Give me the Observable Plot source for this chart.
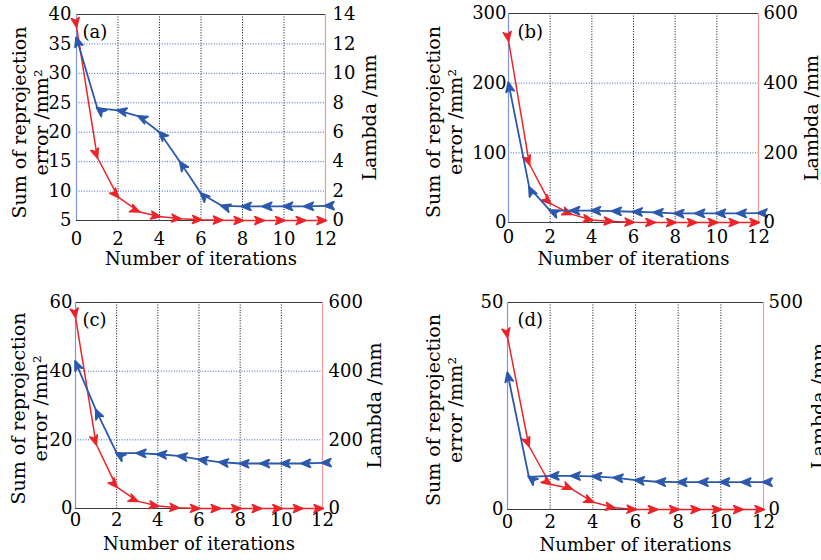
<!DOCTYPE html>
<html>
<head>
<meta charset="utf-8">
<script src="https://cdn.jsdelivr.net/npm/d3@7"></script>
<script src="https://cdn.jsdelivr.net/npm/@observablehq/plot@0.6"></script>
<style>
  html, body { margin: 0; padding: 0; background: white; }
  #root { position: relative; width: 821px; height: 560px; overflow: hidden; background: white; }
  #root > div { position: absolute; }
</style>
</head>
<body>
<div id="root"></div>
<script>
// ---- data ----
const iterations = [0, 1, 2, 3, 4, 5, 6, 7, 8, 9, 10, 11, 12];
const xTicks = [0, 2, 4, 6, 8, 10, 12];
const xGrid = [2, 4, 6, 8, 10];

const errorA  = [36, 24.1, 23.7, 22.7, 20.0, 14.9, 9.6, 7.5, 7.4, 7.4, 7.4, 7.4, 7.5];
const lambdaA = [13.2, 4.3, 1.6, 0.6, 0.27, 0.12, 0.05, 0.02, 0, 0, 0, 0, 0];
const errorB  = [200, 50, 17, 17, 17, 16.3, 15.4, 14.4, 13, 13, 13, 13, 13.4];
const lambdaB = [523, 168, 55, 24, 7, 3, 0.6, 0, 0, 0, 0, 0, 0];
const errorC  = [42.7, 28.6, 16.1, 16.1, 15.8, 15.3, 14.3, 13.5, 13.1, 13.1, 13.1, 13.1, 13.3];
const lambdaC = [558, 188, 63, 21.5, 7, 2, 0, 0, 0, 0, 0, 0, 0];
const errorD  = [32.9, 7.9, 8.1, 8.1, 8.0, 7.7, 7.1, 6.7, 6.6, 6.6, 6.6, 6.6, 6.6];
const lambdaD = [417, 154, 61, 50, 18, 4, 0, 0, 0, 0, 0, 0, 0];

const leftTicksA = [5, 10, 15, 20, 25, 30, 35, 40];
const rightTicksA = [0, 2, 4, 6, 8, 10, 12, 14];
const leftTicksB = [0, 100, 200, 300];
const rightTicksB = [0, 200, 400, 600];
const leftTicksC = [0, 20, 40, 60];
const rightTicksC = [0, 200, 400, 600];
const leftTicksD = [0, 50];
const rightTicksD = [0, 500];

const yTitleLeft = "Sum of reprojection\nerror /mm²";
const yTitleRight = "Lambda /mm";
const xTitle = "Number of iterations";

// ---- styles ----
const BLUE = "#2c58ad";
const RED = "#ec2328";
const BLUE_GRID = "#3a5fd0";
const BLUE_FRAME = "#7b96d8";
const RED_FRAME = "#f29a9a";

function arrowMarker(reverse) {
  return (color, context) => {
    const doc = (context && context.document) || document;
    const ns = "http://www.w3.org/2000/svg";
    const m = doc.createElementNS(ns, "marker");
    m.setAttribute("viewBox", "-10 -5 20 10");
    m.setAttribute("markerWidth", 20);
    m.setAttribute("markerHeight", 10);
    m.setAttribute("markerUnits", "userSpaceOnUse");
    m.setAttribute("orient", "auto");
    const p = doc.createElementNS(ns, "path");
    p.setAttribute("d", reverse ? "M-1,0L8.5,-4L6,0L8.5,4Z" : "M1,0L-8.5,-4L-6,0L-8.5,4Z");
    p.setAttribute("fill", color);
    m.appendChild(p);
    return m;
  };
}

function panel(o, useCustom) {
  const [L0, L1] = o.leftDomain, [R0, R1] = o.rightDomain;
  const toLeft = v => L0 + (v - R0) / (R1 - R0) * (L1 - L0);
  const fromLeft = v => R0 + (v - L0) / (L1 - L0) * (R1 - R0);
  const rows = iterations.map((x, i) => ({x, err: o.err[i], lam: toLeft(o.lam[i])}));
  return Plot.plot({
    width: o.width, height: 280,
    marginLeft: o.m[0], marginRight: o.m[1], marginTop: o.m[2], marginBottom: o.m[3],
    style: {fontFamily: "'DejaVu Serif', serif", fontSize: "18px", background: "white", color: "black", overflow: "visible"},
    x: {domain: [0, 12]},
    y: {domain: [L0, L1]},
    marks: [
      Plot.ruleX(xGrid, {stroke: "#111", strokeDasharray: "1,1.6", strokeWidth: 1}),
      Plot.ruleY(o.leftTicks.filter(t => t > L0 && t < L1), {stroke: BLUE_GRID, strokeDasharray: "1,1.6", strokeWidth: 1}),
      Plot.ruleY([L0, L1], {stroke: "#3a3a3a", strokeWidth: 1.2}),
      Plot.ruleX([0], {stroke: BLUE_FRAME, strokeWidth: 1.2}),
      Plot.ruleX([12], {stroke: RED_FRAME, strokeWidth: 1.2}),
      Plot.line(rows, {x: "x", y: "lam", stroke: RED, strokeWidth: 1.5, marker: useCustom ? arrowMarker(false) : "arrow"}),
      Plot.line(rows, {x: "x", y: "err", stroke: BLUE, strokeWidth: 1.8, marker: useCustom ? arrowMarker(true) : "arrow-reverse"}),
      Plot.axisX({ticks: xTicks, tickSize: 0, tickPadding: o.pad[0], label: null}),
      Plot.axisY({ticks: o.leftTicks, tickSize: 0, tickPadding: o.pad[1], label: null}),
      Plot.axisY({anchor: "right", ticks: o.rightTicks.map(toLeft), tickFormat: v => String(Math.round(fromLeft(v))), tickSize: 0, tickPadding: o.pad[2], label: null}),
      Plot.text([o.tag], {text: d => d, frameAnchor: "top-left", dx: o.tagPos[0], dy: o.tagPos[1], textAnchor: "start", lineAnchor: "middle"}),
      Plot.text([yTitleLeft], {text: d => d, frameAnchor: "left", rotate: -90, dx: o.titles[0], dy: o.titles[3], textAnchor: "middle", lineAnchor: "middle", lineHeight: 1.17, fontSize: 19}),
      Plot.text([yTitleRight], {text: d => d, frameAnchor: "right", rotate: -90, dx: o.titles[1], textAnchor: "middle", lineAnchor: "middle", fontSize: 19}),
      Plot.text([xTitle], {text: d => d, frameAnchor: "bottom", dy: o.titles[2], lineAnchor: "top"})
    ]
  });
}

const panels = [
  {tag: "(a)", left: 0, top: 0, width: 410, m: [76, 85, 14, 60], leftDomain: [5, 40], rightDomain: [0, 14],
   leftTicks: leftTicksA, rightTicks: rightTicksA, err: errorA, lam: lambdaA, pad: [12, 5, 7], tagPos: [6, 18], titles: [-47, 44, 32, 5]},
  {tag: "(b)", left: 410, top: 0, width: 411, m: [98, 63, 13, 58], leftDomain: [0, 300], rightDomain: [0, 600],
   leftTicks: leftTicksB, rightTicks: rightTicksB, err: errorB, lam: lambdaB, pad: [8, 2, 5], tagPos: [9, 19], titles: [-65, 53, 30, 4]},
  {tag: "(c)", left: 0, top: 280, width: 410, m: [75, 88, 22, 52], leftDomain: [0, 60], rightDomain: [0, 600],
   leftTicks: leftTicksC, rightTicks: rightTicksC, err: errorC, lam: lambdaC, pad: [5, 3, 6], tagPos: [7, 18], titles: [-47, 52, 29, 3]},
  {tag: "(d)", left: 410, top: 280, width: 411, m: [97, 58, 22, 51], leftDomain: [0, 50], rightDomain: [0, 500],
   leftTicks: leftTicksD, rightTicks: rightTicksD, err: errorD, lam: lambdaD, pad: [6, 4, 5], tagPos: [10, 18], titles: [-64, 55, 29, 4]}
];

const root = document.getElementById("root");
let useCustom = true;
try { panel(panels[0], true); } catch (e) { useCustom = false; }
for (const p of panels) {
  const wrap = document.createElement("div");
  wrap.style.left = p.left + "px";
  wrap.style.top = p.top + "px";
  wrap.appendChild(panel(p, useCustom));
  root.appendChild(wrap);
}
</script>
</body>
</html>
